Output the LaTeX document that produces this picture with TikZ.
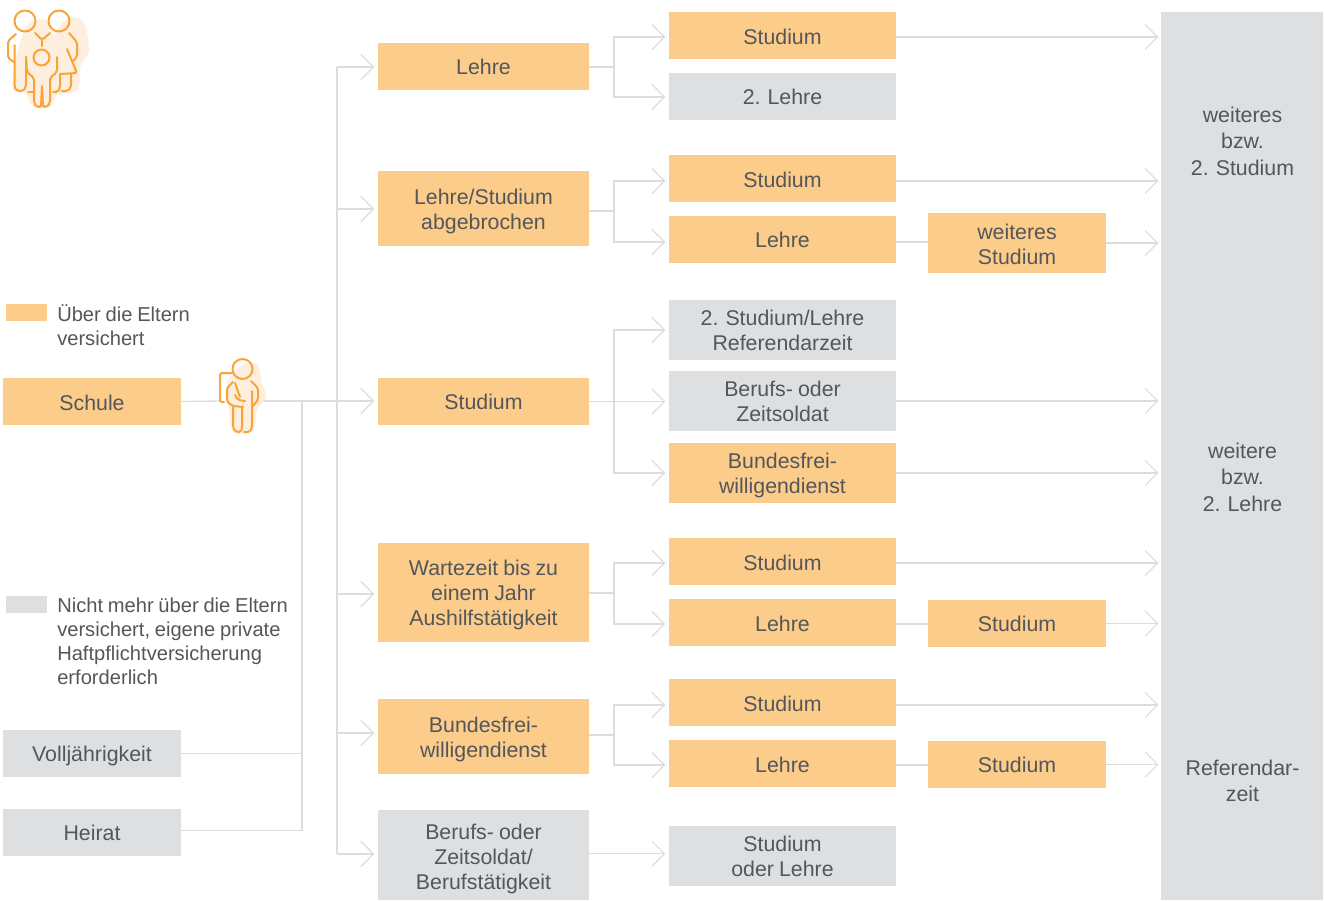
\documentclass[tikz,border=0pt]{standalone}
\usepackage{fontspec}
\setmainfont[WordSpace=0.85]{Liberation Sans}
\usetikzlibrary{arrows.meta}
\definecolor{peach}{HTML}{FCCC8B}
\definecolor{stone}{HTML}{DEDFE1}
\definecolor{wire}{HTML}{DCDDDF}
\definecolor{ink}{HTML}{55565A}
\definecolor{iconline}{HTML}{F8A438}
\definecolor{iconfill}{HTML}{FDEEDD}
\tikzset{
  x=0.75pt, y=-0.75pt,
  box/.style={inner sep=0pt, align=center, text=ink, font=\fontsize{16}{18.75}\selectfont},
  yes/.style={box, fill=peach},
  no/.style={box, fill=stone},
  colB/.style={minimum width=158.25pt},
  colC/.style={minimum width=170.25pt},
  colD/.style={minimum width=133.5pt},
  boxh/.style={minimum height=#1*0.75pt},
  low/.style 2 args={execute at begin node={\rule{0pt}{\dimexpr 11.7pt+18.75pt*#1+#2pt*3/2\relax}}},
  zieltext/.style={box, font=\fontsize{16}{19.9}\selectfont},
  legend/.style={inner sep=0pt, anchor=west, align=left, text=ink, font=\fontsize{15.1}{18}\selectfont},
  wireline/.style={draw=wire, line width=1pt},
  arr/.style={wireline, -{Straight Barb[length=9.5pt, width=19pt, line width=0.9pt]}, shorten >=2.5pt},
  icon/.style={draw=iconline, line width=1.5pt, line cap=round, line join=round, rounded corners=1.5pt},
}
\begin{document}
\begin{tikzpicture}
    \useasboundingbox (0,0) rectangle (1324,900);

    % Legend
    \node[fill=peach, minimum width=30.75pt, minimum height=12.75pt, inner sep=0pt] (keyyes) at (26.5,312.5) {};
    \node[legend] (keyyestext) at (57,325) {Über die Eltern\\versichert};
    \node[fill=stone, minimum width=30.75pt, minimum height=12.75pt, inner sep=0pt] (keyno) at (26.5,604.5) {};
    \node[legend] (keynotext) at (57,641) {Nicht mehr über die Eltern\\versichert, eigene private\\Haftpflichtversicherung\\erforderlich};

    % Left column
    \node[yes, colD, boxh=47, low={0}{1}] (schule) at (92,401.5) {Schule};
    \node[no, colD, boxh=47, low={0}{2}] (voll) at (92,753.5) {Volljährigkeit};
    \node[no, colD, boxh=47] (heirat) at (92,832.5) {Heirat};

    % Second column
    \node[yes, colB, boxh=47] (lehre) at (483.5,66.5) {Lehre};
    \node[yes, colB, boxh=75, low={1}{3}] (abbruch) at (483.5,208.5) {Lehre/Studium\\abgebrochen};
    \node[yes, colB, boxh=47] (studium) at (483.5,401.5) {Studium};
    \node[yes, colB, boxh=99, low={2}{2}] (warte) at (483.5,592.5) {Wartezeit bis zu\\einem Jahr\\Aushilfstätigkeit};
    \node[yes, colB, boxh=75, low={1}{3}] (bfd) at (483.5,736.5) {Bundesfrei-\\willigendienst};
    \node[no, colB, boxh=90, low={2}{4}] (beruf) at (483.5,855) {Berufs- oder\\Zeitsoldat/\\Berufstätigkeit};

    % Third column
    \node[yes, colC, boxh=47, low={0}{1}] (studA) at (782.5,35.5) {Studium};
    \node[no, colC, boxh=47] (lehreA) at (782.5,96.5) {2. Lehre};
    \node[yes, colC, boxh=47, low={0}{1}] (studB) at (782.5,178.5) {Studium};
    \node[yes, colC, boxh=47] (lehreB) at (782.5,239.5) {Lehre};
    \node[no, colC, boxh=60] (refC) at (782.5,330) {2. Studium/Lehre\\Referendarzeit};
    \node[no, colC, boxh=60] (soldC) at (782.5,401) {Berufs- oder\\Zeitsoldat};
    \node[yes, colC, boxh=60, low={1}{2}] (bfdC) at (782.5,473) {Bundesfrei-\\willigendienst};
    \node[yes, colC, boxh=47, low={0}{1}] (studD) at (782.5,561.5) {Studium};
    \node[yes, colC, boxh=47, low={0}{1}] (lehreD) at (782.5,622.5) {Lehre};
    \node[yes, colC, boxh=47, low={0}{1}] (studE) at (782.5,702.5) {Studium};
    \node[yes, colC, boxh=47, low={0}{1}] (lehreE) at (782.5,763.5) {Lehre};
    \node[no, colC, boxh=60] (studF) at (782.5,856) {Studium\\oder Lehre};

    % Fourth column
    \node[yes, colD, boxh=60, low={1}{1}] (weiterB) at (1017,243) {weiteres\\Studium};
    \node[yes, colD, boxh=47] (weiterD) at (1017,623.5) {Studium};
    \node[yes, colD, boxh=47] (weiterE) at (1017,764.5) {Studium};

    % Right column
    \node[no, minimum width=121.5pt, minimum height=666pt] (ziel) at (1242,456) {};
    \node[zieltext] (zielA) at (1242.5,141) {weiteres\\bzw.\\2. Studium};
    \node[zieltext] (zielB) at (1242.5,477) {weitere\\bzw.\\2. Lehre};
    \node[zieltext] (zielC) at (1242.5,781) {Referendar-\\zeit};

    % Trunk
    \coordinate (trunkTop) at (337,67);
    \coordinate (trunkEnd) at (337,854);
    \coordinate (sideTop) at (302,401);
    \coordinate (kidL) at (221,401);
    \coordinate (kidR) at (262,401);
    \draw[wireline] (trunkTop) -- (trunkEnd);
    \draw[wireline] (sideTop) |- ([yshift=1.5pt]heirat.east);
    \draw[wireline] (voll.east) -- (voll.east -| sideTop);
    \draw[wireline] (schule.east) -- (kidL);
    \draw[arr] (kidR) -- (kidR -| studium.west);
    \foreach \n/\y in {lehre/67,abbruch/209,warte/594,bfd/733,beruf/854} {
        \coordinate (t\n) at (337,\y);
        \draw[arr] (t\n) -- (t\n -| \n.west);
    }

    % Forks
    \foreach \src/\sd/\up/\ud/\dn/\dd in {lehre/0.5/studA/1.5/lehreA/0.5,abbruch/2.5/studB/2.5/lehreB/2.5,warte/0.5/studD/1.5/lehreD/1.5,bfd/-1.5/studE/2.5/lehreE/1.5} {
        \coordinate (s\src) at ([yshift=-\sd*0.75pt]\src.east);
        \coordinate (f\src) at (614,0 |- s\src);
        \draw[wireline] (s\src) -- (f\src);
        \draw[arr] (f\src) |- ([yshift=-\ud*0.75pt]\up.west);
        \draw[arr] (f\src) |- ([yshift=-\dd*0.75pt]\dn.west);
    }
    \coordinate (fstudium) at (614,401);
    \draw[arr] (studium.east) -- (studium.east -| soldC.west);
    \draw[arr] (fstudium) |- (refC.west);
    \draw[arr] (fstudium) |- (bfdC.west);
    \draw[arr] ([yshift=1pt]beruf.east) -- ([yshift=1pt]beruf.east -| studF.west);

    % To the right column
    \foreach \a/\d in {studA/1.5,studB/2.5,soldC/0,bfdC/0,studD/1.5,studE/2.5} {
        \draw[arr, shorten >=1.7pt] ([yshift=-\d*0.75pt]\a.east) -- ([yshift=-\d*0.75pt]\a.east -| ziel.west);
    }
    \foreach \a/\b/\d in {lehreB/weiterB/2.5,lehreD/weiterD/1.5,lehreE/weiterE/1.5} {
        \draw[wireline] ([yshift=-\d*0.75pt]\a.east) -- ([yshift=-\d*0.75pt]\a.east -| \b.west);
    }
    \foreach \b in {weiterB,weiterD,weiterE} {
        \draw[arr, shorten >=1.7pt] (\b.east) -- (\b.east -| ziel.west);
    }

    % Family icon
    \fill[iconfill] plot[smooth cycle] coordinates {(26,27) (45,19) (53,35) (62,23) (72,17) (84,23) (89,50) (80,67) (78,90) (57,95) (50,107) (33,107) (25,93) (13,90) (15,63)};
    \draw[icon] (25,21) circle (10.5);
    \draw[icon] (59,21) circle (10.5);
    \draw[icon] (41.5,57.5) circle (8);
    \draw[icon] (16,34) -- (8,41) -- (8,58) -- (14,62);
    \draw[icon] (14.5,45) -- (14.5,87) -- (17,91) -- (23,91) -- (26,87) -- (26,57);
    \draw[icon] (28,92) -- (34,92);
    \draw[icon] (35,33) -- (42,40) -- (50,33);
    \draw[icon] (42,40) -- (42,46);
    \draw[icon] (69,33) -- (77,42) -- (77,57) -- (73,61);
    \draw[icon] (67,49) -- (77,73) -- (60,74);
    \draw[icon] (71,74) -- (71,87) -- (68,91) -- (62,91);
    \draw[icon] (60,75) -- (60,87) -- (58,92) -- (53,92);
    \draw[icon] (26,57) -- (27,72) -- (34,78) -- (34,103) -- (37,107) -- (41,107) -- (42,85) -- (43,107) -- (47,107) -- (50,103) -- (50,78) -- (57,72) -- (57,57);

    % Kid icon
    \fill[iconfill] plot[smooth cycle] coordinates {(245,364) (258,365) (262,383) (266,397) (257,410) (253,430) (233,432) (229,407) (227,383) (235,372)};
    \draw[icon] (242.5,369) circle (10);
    \draw[icon] (232,373) -- (220,373) -- (220,402) -- (224,402);
    \draw[icon] (233,382) -- (227,388) -- (227,402) -- (233,406) -- (243,407);
    \draw[icon] (235,383) -- (240,397);
    \draw[icon] (235,395) -- (238,400) -- (245,401);
    \draw[icon] (251,381) -- (258,388) -- (258,400) -- (253,406);
    \draw[icon] (252,391) -- (252,428) -- (250,432) -- (244,432);
    \draw[icon] (233,407) -- (233,428) -- (236,432) -- (241,432) -- (242,428) -- (242,408);
\end{tikzpicture}
\end{document}
